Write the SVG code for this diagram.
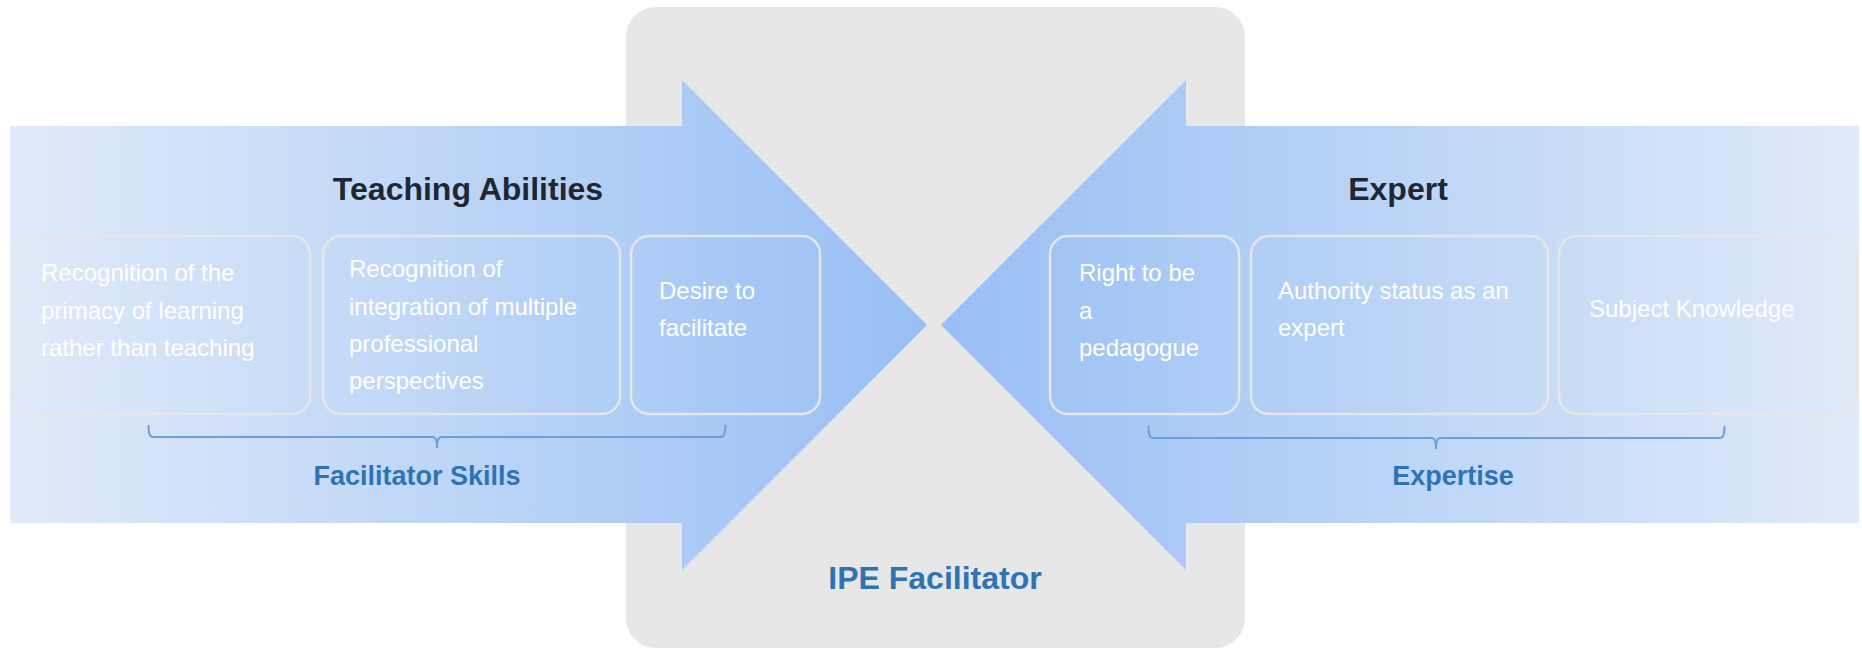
<svg xmlns="http://www.w3.org/2000/svg" width="1862" height="648" viewBox="0 0 1862 648">
<defs>
<linearGradient id="gL" gradientUnits="userSpaceOnUse" x1="10" y1="0" x2="927" y2="0">
<stop offset="0" stop-color="#e0eaf9"/>
<stop offset="1" stop-color="#98bff4"/>
</linearGradient>
<linearGradient id="gR" gradientUnits="userSpaceOnUse" x1="1859" y1="0" x2="941" y2="0">
<stop offset="0" stop-color="#e0eaf9"/>
<stop offset="1" stop-color="#98bff4"/>
</linearGradient>
<style>
.box{fill:none;stroke:#e6e6e6;stroke-width:2.5;}
.bt{font-family:"Liberation Sans",Arial,sans-serif;font-size:24px;fill:#ffffff;}
.title{font-family:"Liberation Sans",Arial,sans-serif;font-size:32px;font-weight:bold;fill:#1f2733;text-anchor:middle;}
.sub{font-family:"Liberation Sans",Arial,sans-serif;font-size:27px;font-weight:bold;fill:#2e74b5;text-anchor:middle;}
.brace{fill:none;stroke:#6a9fd8;stroke-width:2;}
</style>
</defs>
<rect width="1862" height="648" fill="#ffffff"/>
<g id="center">
<rect x="626" y="7" width="619" height="641" rx="30" ry="30" fill="#e7e7e7"/>
<text class="sub" x="935" y="589" style="font-size:32px">IPE Facilitator</text>
</g>
<g id="arrow-left">
<polygon points="10,126 682,126 682,80 927,325 682,570 682,523 10,523" fill="url(#gL)"/>
<text class="title" x="468" y="200">Teaching Abilities</text>
</g>
<g id="arrow-right">
<polygon points="1859,126 1186,126 1186,80 941,325 1186,570 1186,523 1859,523" fill="url(#gR)"/>
<text class="title" x="1398" y="200">Expert</text>
</g>
<g id="box1">
<rect class="box" x="13" y="236" width="297" height="178" rx="18"/>
<text class="bt" x="41" y="281">Recognition of the</text>
<text class="bt" x="41" y="319">primacy of learning</text>
<text class="bt" x="41" y="356">rather than teaching</text>
</g>
<g id="box2">
<rect class="box" x="323" y="236" width="297" height="178" rx="18"/>
<text class="bt" x="349" y="277">Recognition of</text>
<text class="bt" x="349" y="315">integration of multiple</text>
<text class="bt" x="349" y="352">professional</text>
<text class="bt" x="349" y="389">perspectives</text>
</g>
<g id="box3">
<rect class="box" x="631" y="236" width="189" height="178" rx="18"/>
<text class="bt" x="659" y="299">Desire to</text>
<text class="bt" x="659" y="336">facilitate</text>
</g>
<g id="box4">
<rect class="box" x="1050" y="236" width="189" height="178" rx="18"/>
<text class="bt" x="1079" y="281">Right to be</text>
<text class="bt" x="1079" y="319">a</text>
<text class="bt" x="1079" y="356">pedagogue</text>
</g>
<g id="box5">
<rect class="box" x="1251" y="236" width="297" height="178" rx="18"/>
<text class="bt" x="1278" y="299">Authority status as an</text>
<text class="bt" x="1278" y="336">expert</text>
</g>
<g id="box6">
<rect class="box" x="1559" y="236" width="298" height="178" rx="18"/>
<text class="bt" x="1589" y="317">Subject Knowledge</text>
</g>
<g id="connectors">
<path class="brace" d="M148.5,425 Q148.5,437 152.5,437 L433,437 Q437,437 437,448 Q437,437 441,437 L721.5,437 Q725.5,437 725.5,425"/>
<path class="brace" d="M1148.5,426 Q1148.5,438 1152.5,438 L1432,438 Q1436,438 1436,449 Q1436,438 1440,438 L1720.5,438 Q1724.5,438 1724.5,426"/>
</g>
<g id="labels">
<text class="sub" x="417" y="485">Facilitator Skills</text>
<text class="sub" x="1453" y="485">Expertise</text>
</g>
</svg>
